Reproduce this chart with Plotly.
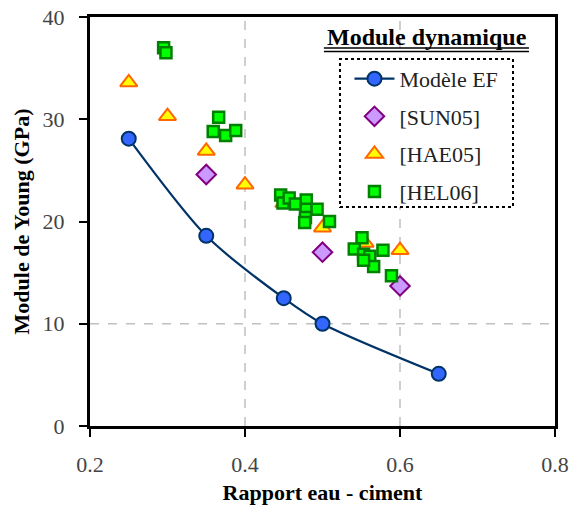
import plotly.graph_objects as go

# ---- data ----
ef_x = [0.25, 0.35, 0.45, 0.50, 0.65]
ef_y = [28.1, 18.6, 12.5, 10.0, 5.1]

sun_x = [0.35, 0.50, 0.60]
sun_y = [24.6, 17.0, 13.7]

hae_x = [0.25, 0.30, 0.35, 0.40, 0.45, 0.50, 0.555, 0.60]
hae_y = [33.6, 30.3, 26.9, 23.6, 21.8, 19.4, 17.9, 17.2]

hel_x = [0.295, 0.298, 0.366, 0.359, 0.375, 0.388,
         0.446, 0.449, 0.457, 0.465, 0.479, 0.479, 0.493, 0.478, 0.477, 0.509,
         0.551, 0.541, 0.553, 0.561, 0.566, 0.578, 0.589, 0.553]
hel_y = [37.0, 36.5, 30.2, 28.8, 28.4, 28.9,
         22.6, 21.8, 22.3, 21.7, 22.1, 21.2, 21.2, 20.4, 19.9, 20.0,
         18.4, 17.3, 16.8, 16.6, 15.6, 17.2, 14.7, 16.2]

x_ticks = [0.2, 0.4, 0.6, 0.8]
y_ticks = [0, 10, 20, 30, 40]

SERIF = "Liberation Serif, Times New Roman, serif"

fig = go.Figure()
fig.add_trace(go.Scatter(
    x=ef_x, y=ef_y, mode="lines+markers", name="Modèle EF", legendgroup="a",
    line=dict(color="#003366", width=2.2, shape="spline", smoothing=0.8),
    marker=dict(symbol="circle", size=14, color="#3366FF",
                line=dict(color="#003366", width=2))))
fig.add_trace(go.Scatter(
    x=sun_x, y=sun_y, mode="markers", name="[SUN05]", legendgroup="b",
    marker=dict(symbol="diamond", size=15, color="#CC99FF",
                line=dict(color="#800080", width=2))))
fig.add_trace(go.Scatter(
    x=hae_x, y=hae_y, mode="markers", name="[HAE05]", legendgroup="c",
    marker=dict(symbol="triangle-up", size=15, color="#FFFF00",
                line=dict(color="#FF6600", width=2))))
fig.add_trace(go.Scatter(
    x=hel_x, y=hel_y, mode="markers", name="[HEL06]", legendgroup="d",
    marker=dict(symbol="square", size=11, color="#00FF00",
                line=dict(color="#008000", width=2.5))))

grid = dict(color="#C0C0C0", width=1.5, dash="dash")
shapes = [
    dict(type="line", xref="x", yref="paper", x0=0.4, x1=0.4, y0=0, y1=1, line=grid, layer="below"),
    dict(type="line", xref="x", yref="paper", x0=0.6, x1=0.6, y0=0, y1=1, line=grid, layer="below"),
    dict(type="line", xref="paper", yref="y", x0=0, x1=1, y0=10, y1=10, line=grid, layer="below"),
    # legend box
    dict(type="rect", xref="paper", yref="paper", x0=0.5376, x1=0.9097, y0=0.5355, y1=0.8973,
         line=dict(color="black", width=2, dash="dot"), fillcolor="white", layer="above"),
    # double underline of title
    dict(type="line", xref="paper", yref="paper", x0=0.503, x1=0.944, y0=0.9242, y1=0.9242,
         line=dict(color="black", width=1.5), layer="above"),
    dict(type="line", xref="paper", yref="paper", x0=0.503, x1=0.944, y0=0.9155, y1=0.9155,
         line=dict(color="black", width=1.5), layer="above"),
]

fig.update_layout(
    width=579, height=509,
    margin=dict(l=90, r=24, t=17, b=83, autoexpand=False),
    paper_bgcolor="white", plot_bgcolor="white",
    font=dict(family=SERIF, color="black"),
    showlegend=True,
    legend=dict(x=0.558, y=0.900, xanchor="left", yanchor="top",
                bgcolor="rgba(0,0,0,0)", borderwidth=0,
                font=dict(family=SERIF, size=22, color="#222222"),
                tracegroupgap=6, itemwidth=40),
    shapes=shapes,
    annotations=[dict(text="<b>Module dynamique</b>", xref="paper", yref="paper",
                      x=0.724, y=0.951, xanchor="center", yanchor="middle",
                      showarrow=False, font=dict(family=SERIF, size=24, color="black"))],
    xaxis=dict(range=[0.2, 0.8], tickvals=x_ticks, ticktext=["0.2", "0.4", "0.6", "0.8"],
               showgrid=False, zeroline=False, automargin=False,
               ticklabeloverflow="allow",
               showline=True, linecolor="black", linewidth=3, mirror=True,
               ticks="outside", ticklen=8, tickwidth=2, tickcolor="black",
               ticklabelstandoff=9,
               tickfont=dict(family=SERIF, size=22, color="#444444"),
               title=dict(text="<b>Rapport eau - ciment</b>", standoff=9,
                          font=dict(family=SERIF, size=22, color="black"))),
    yaxis=dict(range=[0, 40], tickvals=y_ticks,
               showgrid=False, zeroline=False, automargin=False,
               ticklabeloverflow="allow",
               showline=True, linecolor="black", linewidth=3, mirror=True,
               ticks="outside", ticklen=8, tickwidth=2, tickcolor="black",
               ticklabelstandoff=10,
               tickfont=dict(family=SERIF, size=22, color="#444444"),
               title=dict(text="<b>Module de Young (GPa)</b>", standoff=7,
                          font=dict(family=SERIF, size=22, color="black"))),
)

# remove the browser's default 8px body margin so the figure fills the window
fig.write_html("out.html", config={"displayModeBar": False},
               post_script="document.body.style.margin='0';document.body.style.overflow='hidden';")
